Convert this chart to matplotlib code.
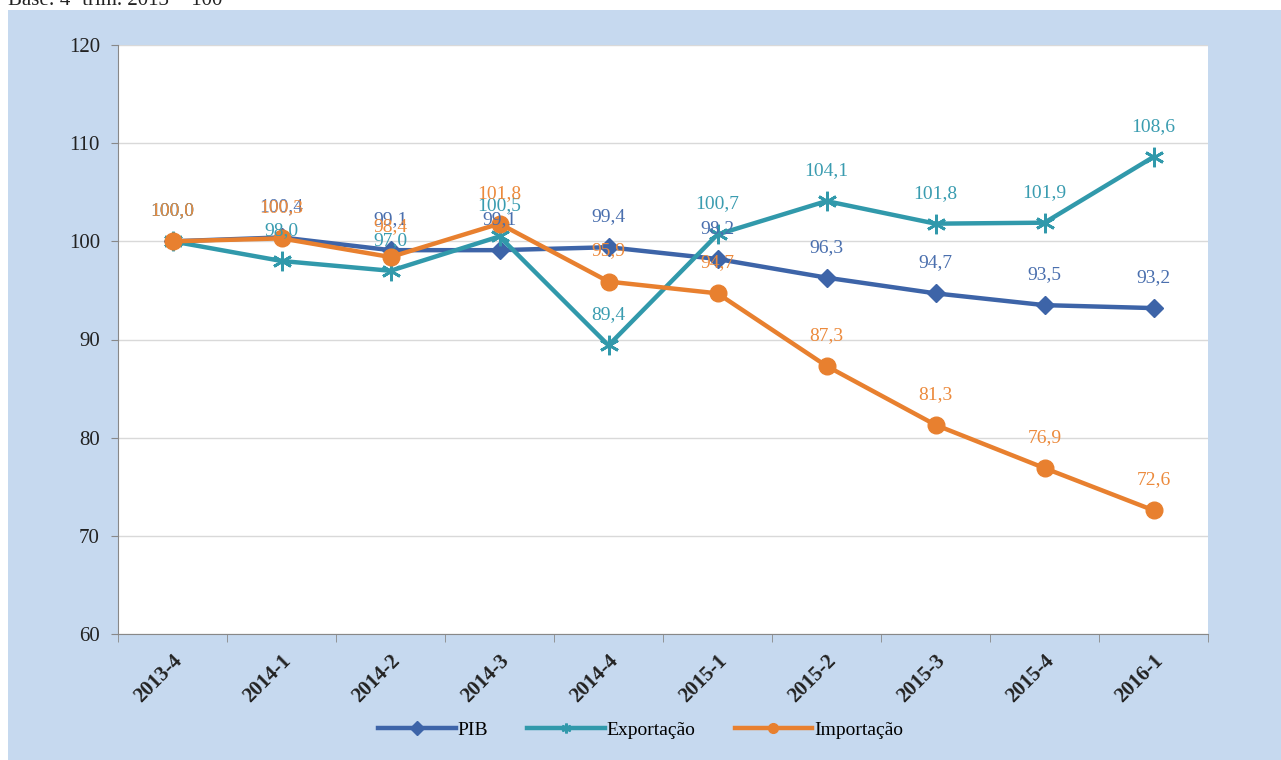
import matplotlib.pyplot as plt
from matplotlib.patches import Rectangle

# data
quarters = ['2013-4', '2014-1', '2014-2', '2014-3', '2014-4',
            '2015-1', '2015-2', '2015-3', '2015-4', '2016-1']
pib = [100.0, 100.4, 99.1, 99.1, 99.4, 98.2, 96.3, 94.7, 93.5, 93.2]
exportacao = [100.0, 98.0, 97.0, 100.5, 89.4, 100.7, 104.1, 101.8, 101.9, 108.6]
importacao = [100.0, 100.3, 98.4, 101.8, 95.9, 94.7, 87.3, 81.3, 76.9, 72.6]

plt.rcParams['font.family'] = ['Liberation Serif', 'DejaVu Serif']

fig = plt.figure(figsize=(12.81, 7.6), dpi=100, facecolor='white')
bg = '#c6d9ef'
fig.patches.append(Rectangle((8 / 1281, 0), 1 - 8 / 1281, 1 - 10 / 760,
                             transform=fig.transFigure, facecolor=bg,
                             edgecolor='none', zorder=-5))
fig.text(0.006, 1 - 5 / 760, 'Base: 4º trim. 2013 = 100', fontsize=15,
         va='baseline', ha='left', color='#222222')

ax = fig.add_axes([118 / 1281, 126 / 760, 1090 / 1281, 589 / 760])
ax.set_facecolor('white')

x = list(range(len(quarters)))
series = [
    ('PIB', pib, '#3d64a8', '#4a6fae', dict(marker='D', markersize=9)),
    ('Exportação', exportacao, '#3199ab', '#3a9cb0',
     dict(marker=(6, 2, 0), markersize=14, markeredgewidth=2)),
    ('Importação', importacao, '#e8802f', '#ec8a3c', dict(marker='o', markersize=12)),
]
for name, vals, col, lcol, mk in series:
    ax.plot(x, vals, color=col, lw=3.2, label=name, zorder=3,
            markerfacecolor=col, markeredgecolor=col, **mk)
    for xi, v in zip(x, vals):
        ax.annotate(f'{v:.1f}'.replace('.', ','), (xi, v), xytext=(0, 22),
                    textcoords='offset points', ha='center', va='center',
                    fontsize=14, color=lcol, zorder=4)

ax.set_xlim(-0.5, len(quarters) - 0.5)
ax.set_ylim(60, 120)
ax.set_yticks(range(60, 121, 10))
ax.yaxis.grid(True, color='#d9d9d9', lw=1)
ax.set_axisbelow(True)
ax.tick_params(axis='y', labelsize=15, length=5, pad=8, color='#888888', labelcolor='#222222')

ax.set_xticks(x)
ax.set_xticklabels(quarters, rotation=45, ha='right', rotation_mode='anchor',
                   fontsize=15, fontweight='bold', color='#222222')
ax.tick_params(axis='x', length=0, pad=12)
ax.set_xticks([i - 0.5 for i in range(len(quarters) + 1)], minor=True)
ax.tick_params(axis='x', which='minor', length=6, color='#888888')

for s in ['top', 'right']:
    ax.spines[s].set_visible(False)
for s in ['left', 'bottom']:
    ax.spines[s].set_color('#888888')

leg = fig.legend(loc='center', bbox_to_anchor=(0.5, 30 / 760), ncol=3,
                 frameon=False, fontsize=14, handlelength=4, columnspacing=2,
                 handletextpad=0.1)
for h in leg.legend_handles:
    h.set_markersize(7)

fig.savefig('out.png', dpi=100, facecolor=fig.get_facecolor())
